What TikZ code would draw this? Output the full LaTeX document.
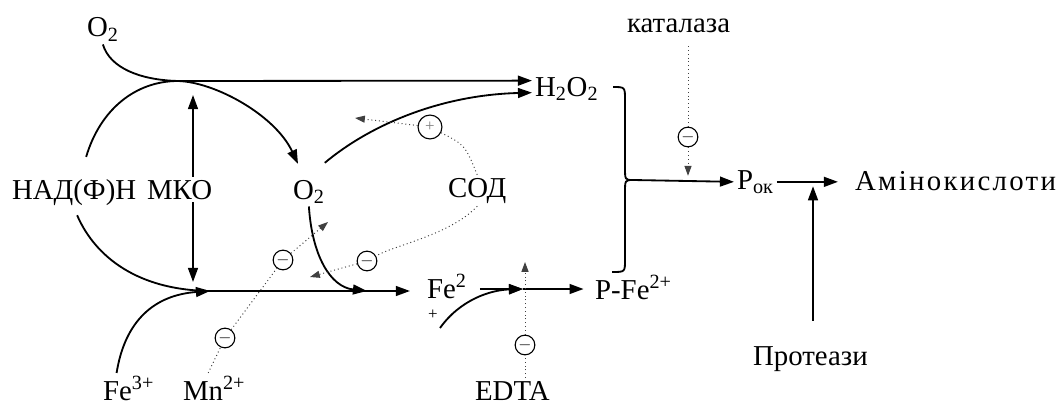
\documentclass[tikz,border=0pt]{standalone}
\usepackage{fontspec}
\setmainfont{Liberation Serif}
\usetikzlibrary{arrows.meta,calc}

\begin{document}
\begin{tikzpicture}[x=0.025cm, y=-0.025cm,
  every node/.style={font=\fontsize{20.5}{24}\selectfont, inner sep=2pt},
  lbl/.style={anchor=base west},
  react/.style={line width=1.3pt, -{Triangle[length=10pt,width=7pt]}},
  plainline/.style={line width=1.3pt},
  inhib/.style={dotted, line width=0.7pt, black!75},
  inhibarr/.style={inhib, -{Triangle[length=7pt,width=5pt]}},
  mcirc/.style={circle, draw, line width=0.8pt, inner sep=0pt, minimum size=14pt, font=\fontsize{12}{12}\selectfont}]
\useasboundingbox (0,0) rectangle (1056,407);

%----- substances -----
\node[lbl] (o2top) at (84,37) {O\textsubscript{2}};
\node[lbl] (nadfh) at (9,199) {НАД(Ф)Н};
\node[lbl] (mko) at (144,199) {МКО};
\node[lbl] (o2) at (290,199) {O\textsubscript{2}};
\node[lbl] (sod) at (445,197) {СОД};
\node[lbl] (h2o2) at (532,96) {H\textsubscript{2}O\textsubscript{2}};
\node[lbl] (katal) at (624,33) {каталаза};
\node[lbl] (pok) at (734,189) {P\textsubscript{ок}};
\node[lbl] (amino) at (852,190) {\addfontfeature{LetterSpace=8}Амінокислоти};
\node[lbl] (fe2) at (424,298) {Fe\textsuperscript{2}};
\node[font=\fontsize{12}{12}\selectfont, inner sep=0pt] (feplus) at (433,315) {+};
\node[lbl] (pfe) at (592,299) {P-Fe\textsuperscript{2+}};
\node[lbl] (fe3) at (100,400) {Fe\textsuperscript{3+}};
\node[lbl] (mn) at (180,400) {Mn\textsuperscript{2+}};
\node[lbl] (edta) at (472,400) {EDTA};
\node[lbl] (prot) at (750,365) {Протеази};

%----- junctions -----
\coordinate (j1) at (178,81);   % O2 + НАД(Ф)Н
\coordinate (j2) at (210,291);  % Fe3+ joins
\coordinate (j3) at (367,291);  % O2 joins
\coordinate (j4) at (523,289);
\coordinate (j5) at (813,182);
\coordinate (br) at (633,180);  % brace cusp
\coordinate (brtop) at (613,87);
\coordinate (brbot) at (612,272);
\coordinate (mkoup) at (193,95);
\coordinate (mkodn) at (193,282);
\coordinate (pin) at (440,328);
\coordinate (mntip) at (328,222);
\coordinate (sodtip) at (355,118);
\coordinate (sodtipb) at (310,277);

%----- inhibitor circles -----
\node[mcirc] (c1) at (225,338) {$-$};
\node[mcirc] (c2) at (283,260) {$-$};
\node[mcirc] (c3) at (367,261) {$-$};
\node[mcirc] (c4) at (525,345) {$-$};
\node[mcirc] (c5) at (688,137) {$-$};
\node[mcirc, minimum size=17pt, text=black!50] (cp) at (430,127) {+};

%----- O2 and NAD(P)H -----
\draw[react] (o2top.south) .. controls (110,68) and (140,80) .. (j1) -- ($(h2o2.west)+(0,-8)$);
\draw[react] ($(nadfh.north)+(12,-19)$) .. controls (100,110) and (135,81) .. (j1)
  .. controls (215,82) and (275,115) .. ($(o2.north west)+(8,-13)$);
\draw[react] ($(o2.north east)+(-3,-14)$) .. controls (370,125) and (440,95) .. ($(h2o2.west)+(0,4)$);
\draw[react] (mko.north -| mkoup) -- (mkoup);
\draw[react] (mko.south -| mkodn) -- (mkodn);

%----- iron -----
\draw[react, shorten >=10pt] ($(nadfh.south)+(3,7)$) .. controls (92,250) and (130,290) .. (j2) -- (j2 -| fe2.west);
\draw[react] ($(fe3.north)+(-12,0)$) .. controls (125,320) and (155,295) .. (j2);
\draw[react] (o2.south) .. controls (312,255) and (330,287) .. (j3);
\draw[react] ($(fe2.east |- j4)+(10,0)$) -- (j4);
\draw[react] (pin) .. controls (460,300) and (490,290) .. (j4);
\draw[react, shorten >=6pt] (j4) -- (j4 -| pfe.west);

%----- brace and products -----
\draw[plainline] (brtop) .. controls (625,87) .. (625,100) -- (625,167) .. controls (625,180) .. (br);
\draw[plainline] (brbot) .. controls (625,272) .. (625,260) -- (625,193) .. controls (625,180) .. (br);
\draw[react] (br) -- (pok.west);
\draw[react, shorten >=10pt] (pok.east) -- (pok.east -| amino.west);
\draw[react, shorten <=16pt, shorten >=3pt] (prot.north -| j5) -- (j5);

%----- inhibitors -----
\draw[inhib, shorten <=7pt] (katal.south -| c5) -- (c5);
\draw[inhibarr, shorten >=3pt] (c5) -- (c5 |- br);
\draw[inhib] (edta.north -| c4) -- (c4);
\draw[inhibarr] (c4) -- ($(c4 |- j4)+(0,-27)$);
\draw[inhib] ($(mn.north)+(-6,0)$) -- (c1);
\draw[inhib] (c1) -- (c2);
\draw[inhibarr] (c2) -- (mntip);
\draw[inhib] (sod.north) .. controls (465,145) .. (cp);
\draw[inhibarr] (cp) -- (sodtip);
\draw[inhib] (sod.south) .. controls (450,235) and (395,245) .. (c3);
\draw[inhibarr] (c3) -- (sodtipb);
\end{tikzpicture}
\end{document}
